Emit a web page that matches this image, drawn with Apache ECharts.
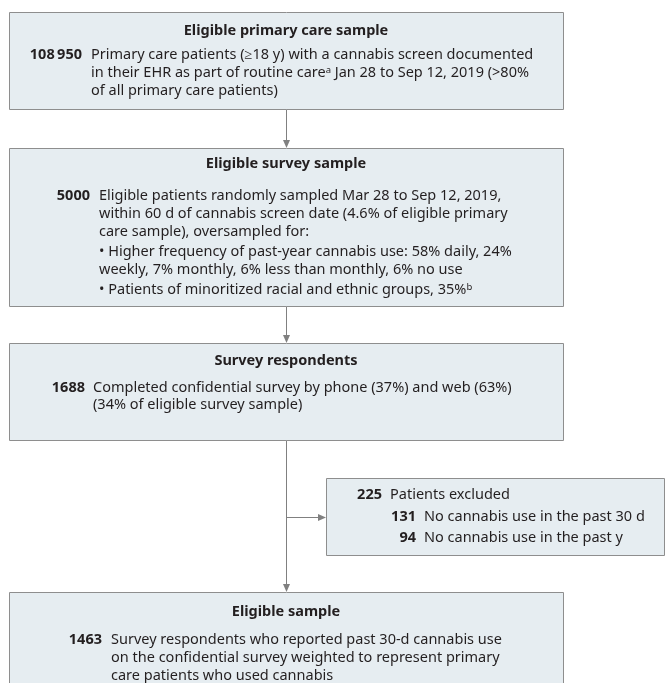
<!DOCTYPE html>
<html>
<head>
<meta charset="utf-8">
<script src="https://cdn.jsdelivr.net/npm/echarts@6/dist/echarts.min.js"></script>
<style>
  html, body { margin: 0; padding: 0; background: #fff; }
  #main { width: 665px; height: 683px; }
</style>
</head>
<body>
<div id="main"></div>
<script>
// flow stages, top to bottom
var stageTitles = ['Eligible primary care sample', 'Eligible survey sample', 'Survey respondents', 'Eligible sample'];
var stageCounts = ['108\u2009950', '5000', '1688', '1463'];
var stageText = [
  ['Primary care patients (\u226518 y) with a cannabis screen documented',
   'in their EHR as part of routine care{sup|a} Jan 28 to Sep 12, 2019 (>80%',
   'of all primary care patients)'],
  ['Eligible patients randomly sampled Mar 28 to Sep 12, 2019,',
   'within 60 d of cannabis screen date (4.6% of eligible primary',
   'care sample), oversampled for:',
   '\u2022 Higher frequency of past-year cannabis use: 58% daily, 24%',
   'weekly, 7% monthly, 6% less than monthly, 6% no use',
   '\u2022 Patients of minoritized racial and ethnic groups, 35%{sup|b}'],
  ['Completed confidential survey by phone (37%) and web (63%)',
   '(34% of eligible survey sample)'],
  ['Survey respondents who reported past 30-d cannabis use',
   'on the confidential survey weighted to represent primary',
   'care patients who used cannabis']
];
// exclusion box
var excludedTotal = '225';
var excludedLabel = 'Patients excluded';
var excludedCounts = ['131', '94'];
var excludedReasons = ['No cannabis use in the past 30 d', 'No cannabis use in the past y'];

// layout
var BOX_X = 9, BOX_W = 554;
var boxTop = [12, 148, 343, 592];
var boxHeight = [97, 158, 97, 120];
var titleY = [31, 164, 361, 612];
var countRight = [82, 90, 85, 102];
var textLeft = [91, 99, 93, 111];
var lineY = [[55, 73, 91], [196, 214, 232, 252, 270, 290], [388, 405], [640, 658, 676]];
var ARROW_X = 286.5;

var FILL = '#e6edf1', STROKE = '#8e8e8e', LINE = '#808080', INK = '#231f20';
var FONT = '14.5px "Noto Sans"', BOLD = 'bold 14.5px "Noto Sans"';
var rich = { sup: { font: '9.5px "Noto Sans"', fill: INK, verticalAlign: 'top', lineHeight: 11 } };

function txt(x, y, text, font, align) {
  return {
    type: 'text', silent: true,
    style: {
      x: x, y: y, text: text, font: font, fill: INK,
      align: align, textAlign: align, verticalAlign: 'middle', textVerticalAlign: 'middle',
      rich: rich
    }
  };
}
function box(x, y, w, h) {
  return {
    type: 'rect', silent: true,
    shape: { x: x + 0.5, y: y + 0.5, width: w, height: h },
    style: { fill: FILL, stroke: STROKE, lineWidth: 1 }
  };
}
function line(x1, y1, x2, y2) {
  return {
    type: 'line', silent: true,
    shape: { x1: x1, y1: y1, x2: x2, y2: y2 },
    style: { stroke: LINE, lineWidth: 1 }
  };
}
function headDown(x, y) {
  return { type: 'polygon', silent: true, shape: { points: [[x - 3.5, y - 8], [x + 3.5, y - 8], [x, y]] }, style: { fill: LINE } };
}
function headRight(x, y) {
  return { type: 'polygon', silent: true, shape: { points: [[x - 8, y - 3.5], [x - 8, y + 3.5], [x, y]] }, style: { fill: LINE } };
}

var els = [];
// connectors
els.push(line(ARROW_X, 109, ARROW_X, 140), headDown(ARROW_X, 148));
els.push(line(ARROW_X, 306, ARROW_X, 336), headDown(ARROW_X, 343));
els.push(line(ARROW_X, 440, ARROW_X, 584), headDown(ARROW_X, 592));
els.push(line(ARROW_X, 517.5, 318, 517.5), headRight(326, 517.5));

stageTitles.forEach(function (title, i) {
  els.push(box(BOX_X, boxTop[i], BOX_W, boxHeight[i]));
  els.push(txt(BOX_X + BOX_W / 2, titleY[i], title, BOLD, 'center'));
  els.push(txt(countRight[i], lineY[i][0], stageCounts[i], BOLD, 'right'));
  stageText[i].forEach(function (t, j) {
    els.push(txt(textLeft[i], lineY[i][j], t, FONT, 'left'));
  });
});

// exclusion box
els.push(box(326, 478, 338, 77));
els.push(txt(382, 495, excludedTotal, BOLD, 'right'));
els.push(txt(390, 495, excludedLabel, FONT, 'left'));
excludedCounts.forEach(function (c, j) {
  els.push(txt(416, 517 + j * 21, c, BOLD, 'right'));
  els.push(txt(424, 517 + j * 21, excludedReasons[j], FONT, 'left'));
});

var chart = echarts.init(document.getElementById('main'));
chart.setOption({ animation: false, graphic: { elements: els } });
</script>
</body>
</html>
